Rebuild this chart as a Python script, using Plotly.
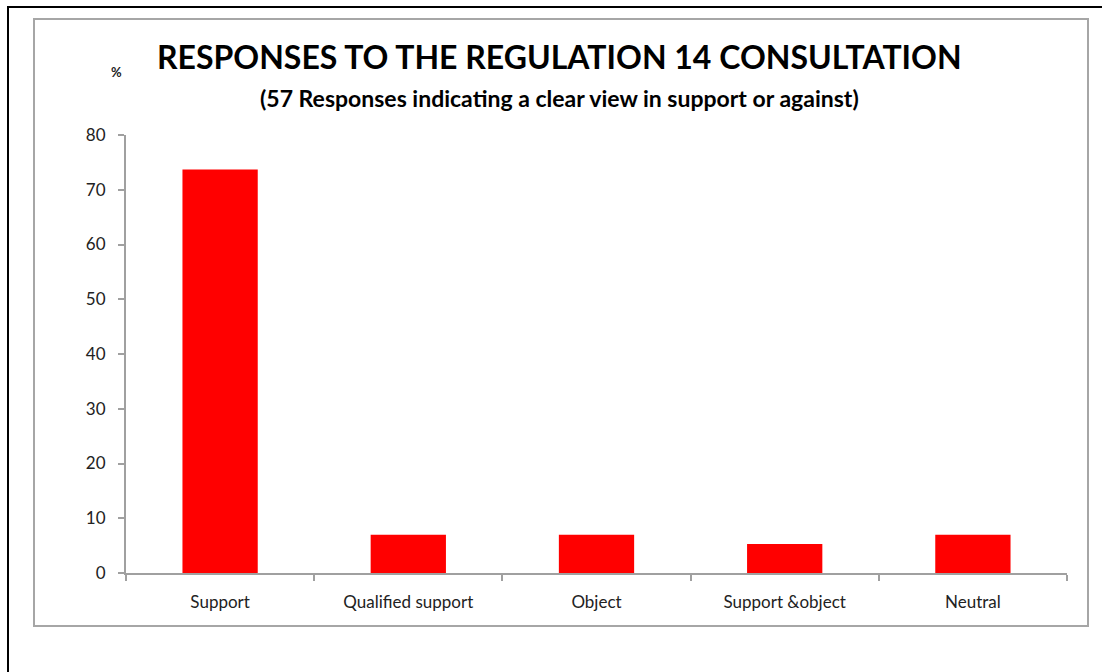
import plotly.graph_objects as go

categories = ["Support", "Qualified support", "Object", "Support &object", "Neutral"]
values = [73.7, 7.0, 7.0, 5.3, 7.0]
y_ticks = [0, 10, 20, 30, 40, 50, 60, 70, 80]

W, H = 1102, 672
L, R, T, B = 126, 1067, 135, 573  # plot area in px


def px(x):
    return (x - L) / (R - L)


def py(y):
    return (B - y) / (B - T)


fig = go.Figure(go.Bar(x=categories, y=values, marker=dict(color="#ff0000", line=dict(width=0))))

shapes = [
    dict(type="rect", xref="paper", yref="paper", x0=px(8), x1=px(1130), y0=py(7), y1=py(700),
         line=dict(color="black", width=2), fillcolor="rgba(0,0,0,0)", layer="below"),
    dict(type="rect", xref="paper", yref="paper", x0=px(34), x1=px(1088), y0=py(19), y1=py(626),
         line=dict(color="#a6a6a6", width=2), fillcolor="rgba(0,0,0,0)", layer="below"),
]

font = "Lato, Open Sans, sans-serif"
fig.update_layout(
    width=W, height=H, autosize=False,
    margin=dict(l=L, r=W - R, t=T, b=H - B, pad=0),
    paper_bgcolor="white", plot_bgcolor="white",
    bargap=0.6, showlegend=False,
    shapes=shapes,
    font=dict(family=font, color="#222222", size=16),
    annotations=[
        dict(text="<b>RESPONSES TO THE REGULATION 14 CONSULTATION</b>", xref="paper", yref="paper",
             x=px(559), y=py(57), showarrow=False, font=dict(size=32, color="black", family=font),
             xanchor="center", yanchor="middle"),
        dict(text="<b>(57 Responses indicating a clear view in support or against)</b>", xref="paper", yref="paper",
             x=px(559), y=py(98), showarrow=False, font=dict(size=23, color="black", family=font),
             xanchor="center", yanchor="middle"),
        dict(text="<b>%</b>", xref="paper", yref="paper", x=px(116), y=py(72), showarrow=False,
             font=dict(size=13, color="#222222", family=font), xanchor="center", yanchor="middle"),
    ],
)
fig.update_xaxes(
    type="category", showline=True, linecolor="#a0a0a0", linewidth=2,
    ticks="outside", tickson="boundaries", ticklen=6, tickcolor="#a0a0a0", tickwidth=2,
    ticklabelstandoff=13,
    showgrid=False, tickfont=dict(size=17, family=font, color="#222222"),
)
fig.update_yaxes(
    range=[0, 80], tickvals=y_ticks, showline=True, linecolor="#a0a0a0", linewidth=2,
    ticks="outside", ticklen=6, tickcolor="#a0a0a0", tickwidth=2, showgrid=False, zeroline=False,
    ticklabelstandoff=9,
    tickfont=dict(size=17, family=font, color="#222222"),
)

fig.write_html("out.html")
